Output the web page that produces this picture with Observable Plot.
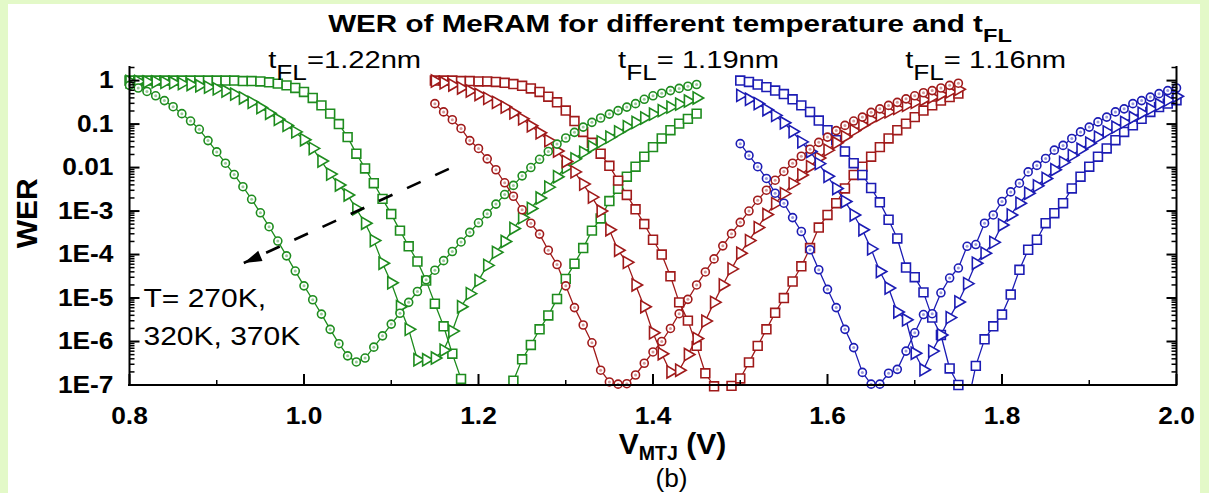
<!DOCTYPE html>
<html><head><meta charset="utf-8">
<script src="https://cdn.jsdelivr.net/npm/d3@7"></script>
<script src="https://cdn.jsdelivr.net/npm/@observablehq/plot@0.6"></script>
<style>
html,body{margin:0;padding:0;}
body{width:1209px;height:493px;background:#e3f9c8;position:relative;overflow:hidden;}
#panel{position:absolute;left:8px;top:4px;width:1192px;height:489px;background:#fff;}
#chart{position:absolute;left:0;top:0;}
</style></head>
<body><div id="panel"></div><div id="chart"></div>
<script>
// ---------- data: [V_MTJ (V), log10(WER)] ----------
// tFL = 1.22 nm (green)
const g270 = [[0.80,-0.11],[0.81,-0.17],[0.82,-0.25],[0.83,-0.35],[0.84,-0.46],[0.85,-0.60],[0.86,-0.76],[0.87,-0.93],[0.88,-1.12],[0.89,-1.38],[0.90,-1.64],[0.91,-1.90],[0.92,-2.16],[0.93,-2.44],[0.94,-2.73],[0.95,-3.04],[0.96,-3.36],[0.97,-3.69],[0.98,-4.03],[0.99,-4.38],[1.00,-4.72],[1.01,-5.04],[1.02,-5.37],[1.03,-5.72],[1.04,-6.05],[1.05,-6.33],[1.06,-6.47],[1.07,-6.38],[1.08,-6.13],[1.09,-5.87],[1.10,-5.60],[1.11,-5.35],[1.12,-5.10],[1.13,-4.85],[1.14,-4.58],[1.15,-4.36],[1.16,-4.14],[1.17,-3.93],[1.18,-3.71],[1.19,-3.49],[1.20,-3.27],[1.21,-3.06],[1.22,-2.84],[1.23,-2.62],[1.24,-2.41],[1.25,-2.19],[1.26,-2.00],[1.27,-1.81],[1.28,-1.63],[1.29,-1.46],[1.30,-1.32],[1.31,-1.19],[1.32,-1.07],[1.33,-0.96],[1.34,-0.86],[1.35,-0.77],[1.36,-0.69],[1.37,-0.61],[1.38,-0.53],[1.39,-0.43],[1.40,-0.35],[1.41,-0.29],[1.42,-0.23],[1.43,-0.18],[1.44,-0.13],[1.45,-0.09]];
const g320 = [[0.80,-0.02],[0.81,-0.02],[0.82,-0.03],[0.83,-0.03],[0.84,-0.04],[0.85,-0.05],[0.86,-0.07],[0.87,-0.09],[0.88,-0.12],[0.89,-0.15],[0.90,-0.19],[0.91,-0.24],[0.92,-0.31],[0.93,-0.40],[0.94,-0.50],[0.95,-0.62],[0.96,-0.75],[0.97,-0.89],[0.98,-1.03],[0.99,-1.18],[1.00,-1.36],[1.01,-1.56],[1.02,-1.85],[1.03,-2.15],[1.04,-2.40],[1.05,-2.63],[1.06,-2.95],[1.07,-3.28],[1.08,-3.68],[1.09,-4.20],[1.10,-4.65],[1.11,-5.20],[1.12,-5.72],[1.13,-6.42],[1.14,-6.42],[1.15,-6.38],[1.16,-6.20],[1.17,-5.76],[1.18,-5.20],[1.19,-4.90],[1.20,-4.60],[1.21,-4.25],[1.22,-3.95],[1.23,-3.70],[1.24,-3.40],[1.25,-3.15],[1.26,-2.94],[1.27,-2.70],[1.28,-2.45],[1.29,-2.21],[1.30,-2.00],[1.31,-1.80],[1.32,-1.65],[1.33,-1.52],[1.34,-1.41],[1.35,-1.30],[1.36,-1.18],[1.37,-1.06],[1.38,-0.96],[1.39,-0.86],[1.40,-0.77],[1.41,-0.69],[1.42,-0.61],[1.43,-0.54],[1.44,-0.47],[1.45,-0.40]];
const g370 = [[0.80,0],[0.81,0],[0.82,0],[0.83,0],[0.84,0],[0.85,0],[0.86,0],[0.87,0],[0.88,0],[0.89,0],[0.90,0],[0.91,0],[0.92,0],[0.93,-0.01],[0.94,-0.01],[0.95,-0.02],[0.96,-0.04],[0.97,-0.07],[0.98,-0.11],[0.99,-0.17],[1.00,-0.26],[1.01,-0.40],[1.02,-0.57],[1.03,-0.76],[1.04,-1.00],[1.05,-1.30],[1.06,-1.68],[1.07,-2.02],[1.08,-2.36],[1.09,-2.72],[1.10,-3.07],[1.11,-3.45],[1.12,-3.81],[1.13,-4.16],[1.14,-4.60],[1.15,-5.13],[1.16,-5.65],[1.17,-6.28],[1.18,-6.86],[1.19,-7.50],[1.23,-7.50],[1.24,-6.90],[1.25,-6.41],[1.26,-6.08],[1.27,-5.72],[1.28,-5.40],[1.29,-5.02],[1.30,-4.56],[1.31,-4.21],[1.32,-3.85],[1.33,-3.45],[1.34,-3.17],[1.35,-2.77],[1.36,-2.49],[1.37,-2.21],[1.38,-1.98],[1.39,-1.75],[1.40,-1.53],[1.41,-1.33],[1.42,-1.14],[1.43,-0.99],[1.44,-0.88],[1.45,-0.76]];
// tFL = 1.19 nm (red)
const r270 = [[1.15,-0.53],[1.16,-0.72],[1.17,-0.90],[1.18,-1.10],[1.19,-1.38],[1.20,-1.56],[1.21,-1.80],[1.22,-2.05],[1.23,-2.35],[1.24,-2.66],[1.25,-2.97],[1.26,-3.28],[1.27,-3.53],[1.28,-3.90],[1.29,-4.23],[1.30,-4.72],[1.31,-5.22],[1.32,-5.62],[1.33,-6.03],[1.34,-6.66],[1.35,-6.93],[1.36,-6.98],[1.37,-6.97],[1.38,-6.77],[1.39,-6.50],[1.40,-6.24],[1.41,-6.00],[1.42,-5.70],[1.43,-5.36],[1.44,-5.03],[1.45,-4.70],[1.46,-4.40],[1.47,-4.10],[1.48,-3.80],[1.49,-3.52],[1.50,-3.26],[1.51,-3.00],[1.52,-2.75],[1.53,-2.52],[1.54,-2.29],[1.55,-2.09],[1.56,-1.90],[1.57,-1.74],[1.58,-1.58],[1.59,-1.42],[1.60,-1.30],[1.61,-1.15],[1.62,-1.03],[1.63,-0.93],[1.64,-0.84],[1.65,-0.73],[1.66,-0.65],[1.67,-0.57],[1.68,-0.50],[1.69,-0.42],[1.70,-0.35],[1.71,-0.28],[1.72,-0.23],[1.73,-0.17],[1.74,-0.11],[1.75,-0.06]];
const r320 = [[1.15,-0.01],[1.16,-0.05],[1.17,-0.10],[1.18,-0.17],[1.19,-0.24],[1.20,-0.32],[1.21,-0.41],[1.22,-0.50],[1.23,-0.61],[1.24,-0.74],[1.25,-0.88],[1.26,-1.04],[1.27,-1.20],[1.28,-1.38],[1.29,-1.62],[1.30,-1.86],[1.31,-2.10],[1.32,-2.38],[1.33,-2.68],[1.34,-3.00],[1.35,-3.43],[1.36,-3.90],[1.37,-4.18],[1.38,-4.70],[1.39,-5.20],[1.40,-5.80],[1.41,-6.28],[1.42,-6.70],[1.43,-6.66],[1.44,-6.30],[1.45,-5.93],[1.46,-5.53],[1.47,-5.10],[1.48,-4.70],[1.49,-4.33],[1.50,-3.97],[1.51,-3.68],[1.52,-3.38],[1.53,-3.08],[1.54,-2.83],[1.55,-2.60],[1.56,-2.37],[1.57,-2.17],[1.58,-1.98],[1.59,-1.78],[1.60,-1.60],[1.61,-1.43],[1.62,-1.29],[1.63,-1.15],[1.64,-1.02],[1.65,-0.90],[1.66,-0.80],[1.67,-0.72],[1.68,-0.64],[1.69,-0.57],[1.70,-0.50],[1.71,-0.44],[1.72,-0.38],[1.73,-0.32],[1.74,-0.26],[1.75,-0.20]];
const r370 = [[1.15,0],[1.16,0],[1.17,0],[1.18,-0.01],[1.19,-0.01],[1.20,-0.02],[1.21,-0.02],[1.22,-0.03],[1.23,-0.05],[1.24,-0.08],[1.25,-0.12],[1.26,-0.18],[1.27,-0.26],[1.28,-0.37],[1.29,-0.50],[1.30,-0.69],[1.31,-0.93],[1.32,-1.18],[1.33,-1.43],[1.34,-1.68],[1.35,-1.96],[1.36,-2.30],[1.37,-2.63],[1.38,-2.96],[1.39,-3.30],[1.40,-3.66],[1.41,-4.00],[1.42,-4.50],[1.43,-5.10],[1.44,-5.52],[1.45,-6.10],[1.46,-6.73],[1.47,-7.03],[1.48,-7.50],[1.49,-7.02],[1.50,-6.85],[1.51,-6.48],[1.52,-6.10],[1.53,-5.72],[1.54,-5.34],[1.55,-5.00],[1.56,-4.62],[1.57,-4.27],[1.58,-3.85],[1.59,-3.38],[1.60,-3.09],[1.61,-2.82],[1.62,-2.48],[1.63,-2.17],[1.64,-1.98],[1.65,-1.75],[1.66,-1.53],[1.67,-1.33],[1.68,-1.14],[1.69,-0.99],[1.70,-0.84],[1.71,-0.69],[1.72,-0.57],[1.73,-0.46],[1.74,-0.38],[1.75,-0.30]];
// tFL = 1.16 nm (blue)
const b270 = [[1.50,-1.45],[1.51,-1.72],[1.52,-1.98],[1.53,-2.25],[1.54,-2.59],[1.55,-2.82],[1.56,-3.15],[1.57,-3.47],[1.58,-3.89],[1.59,-4.35],[1.60,-4.80],[1.61,-5.22],[1.62,-5.72],[1.63,-6.14],[1.64,-6.71],[1.65,-6.98],[1.66,-6.98],[1.67,-6.73],[1.68,-6.64],[1.69,-6.22],[1.70,-5.80],[1.71,-5.38],[1.72,-5.36],[1.73,-4.88],[1.74,-4.54],[1.75,-4.31],[1.76,-3.81],[1.77,-3.77],[1.78,-3.28],[1.79,-3.09],[1.80,-2.78],[1.81,-2.56],[1.82,-2.36],[1.83,-2.10],[1.84,-1.95],[1.85,-1.79],[1.86,-1.60],[1.87,-1.49],[1.88,-1.33],[1.89,-1.18],[1.90,-1.07],[1.91,-0.95],[1.92,-0.84],[1.93,-0.72],[1.94,-0.65],[1.95,-0.53],[1.96,-0.46],[1.97,-0.38],[1.98,-0.30],[1.99,-0.23],[2.00,-0.17]];
const b320 = [[1.50,-0.34],[1.51,-0.43],[1.52,-0.53],[1.53,-0.67],[1.54,-0.80],[1.55,-0.97],[1.56,-1.17],[1.57,-1.41],[1.58,-1.63],[1.59,-1.91],[1.60,-2.20],[1.61,-2.48],[1.62,-2.78],[1.63,-3.09],[1.64,-3.43],[1.65,-3.87],[1.66,-4.39],[1.67,-4.77],[1.68,-5.32],[1.69,-5.50],[1.70,-6.27],[1.71,-6.65],[1.72,-6.22],[1.73,-5.85],[1.74,-5.45],[1.75,-5.09],[1.76,-4.67],[1.77,-4.20],[1.78,-3.97],[1.79,-3.72],[1.80,-3.32],[1.81,-3.09],[1.82,-2.82],[1.83,-2.59],[1.84,-2.42],[1.85,-2.25],[1.86,-2.05],[1.87,-1.88],[1.88,-1.72],[1.89,-1.58],[1.90,-1.44],[1.91,-1.30],[1.92,-1.18],[1.93,-1.07],[1.94,-0.96],[1.95,-0.85],[1.96,-0.75],[1.97,-0.65],[1.98,-0.55],[1.99,-0.45],[2.00,-0.36]];
const b370 = [[1.50,0],[1.51,-0.03],[1.52,-0.09],[1.53,-0.15],[1.54,-0.23],[1.55,-0.31],[1.56,-0.43],[1.57,-0.57],[1.58,-0.72],[1.59,-0.92],[1.60,-1.14],[1.61,-1.37],[1.62,-1.63],[1.63,-1.90],[1.64,-2.17],[1.65,-2.47],[1.66,-2.80],[1.67,-3.20],[1.68,-3.63],[1.69,-4.30],[1.70,-4.52],[1.71,-4.87],[1.72,-5.45],[1.73,-5.85],[1.74,-6.62],[1.75,-7.00],[1.76,-7.50],[1.77,-6.56],[1.78,-5.95],[1.79,-5.65],[1.80,-5.38],[1.81,-4.92],[1.82,-4.35],[1.83,-3.89],[1.84,-3.66],[1.85,-3.28],[1.86,-3.05],[1.87,-2.82],[1.88,-2.48],[1.89,-2.21],[1.90,-1.98],[1.91,-1.75],[1.92,-1.56],[1.93,-1.37],[1.94,-1.18],[1.95,-1.03],[1.96,-0.88],[1.97,-0.72],[1.98,-0.61],[1.99,-0.53],[2.00,-0.45]];

const thicknesses = ["1.22", "1.19", "1.16"];
const temperatures = ["270K", "320K", "370K"];
const xTicks = [0.8, 1.0, 1.2, 1.4, 1.6, 1.8, 2.0];
const xTickLabels = ["0.8", "1.0", "1.2", "1.4", "1.6", "1.8", "2.0"];
const xMinorTicks = [0.9, 1.1, 1.3, 1.5, 1.7, 1.9];
const yTicks = [1, 0.1, 0.01, 1e-3, 1e-4, 1e-5, 1e-6, 1e-7];
const yTickLabels = ["1", "0.1", "0.01", "1E-3", "1E-4", "1E-5", "1E-6", "1E-7"];
const tflLabels = ["t_{FL}=1.22nm", "t_{FL}= 1.19nm", "t_{FL}= 1.16nm"];
const tempNote = ["T= 270K,", "320K, 370K"];
const titleText = "WER of MeRAM for different temperature and t_{FL}";
const arrowNote = [{v1: 1.166, w1: 9.3e-3, v2: 0.931, w2: 6.4e-5}];

// ---------- build table ----------
const seriesDefs = [
  [g270, "1.22", "270K"], [g320, "1.22", "320K"], [g370, "1.22", "370K"],
  [r270, "1.19", "270K"], [r320, "1.19", "320K"], [r370, "1.19", "370K"],
  [b270, "1.16", "270K"], [b320, "1.16", "320K"], [b370, "1.16", "370K"]
];
const rows = [];
for (const [pts, tFL, T] of seriesDefs)
  for (const [v, e] of pts) rows.push({V: v, WER: 10 ** e, tFL, T, key: tFL + "|" + T});
const shown = rows.filter(d => d.WER >= 10 ** -7.1);
const yMinor = [];
for (let e = -7; e < 0; e++) for (let m = 2; m <= 9; m++) yMinor.push(m * 10 ** e);
yMinor.push(2);

const FONT = "'Liberation Sans', Arial, Helvetica, sans-serif";
const tick = (dx, dy) => ({draw(ctx) { ctx.moveTo(0, 0); ctx.lineTo(dx, dy); }});
const arrowHead = {draw(ctx) { ctx.moveTo(0, 0); ctx.lineTo(-5.5, 18); ctx.lineTo(5.5, 18); ctx.closePath(); }};
const dotBase = {x: "V", y: "WER", stroke: "tFL", fill: "white", strokeWidth: 1.6};

const chart = Plot.plot({
  width: 1209, height: 493,
  marginLeft: 129, marginRight: 33, marginTop: 67, marginBottom: 108.5,
  style: {background: "transparent", fontFamily: FONT, color: "black", overflow: "visible"},
  x: {domain: [0.8, 2.0], axis: null},
  y: {type: "log", domain: [1e-7, 2], axis: null},
  color: {domain: thicknesses, range: ["#1e8c1e", "#a01a1a", "#1c1cb4"]},
  marks: [
    Plot.line(rows, {x: "V", y: "WER", z: "key", stroke: "tFL", strokeWidth: 1.3, clip: true}),
    Plot.dot(shown.filter(d => d.T === temperatures[2]), {...dotBase, symbol: "square", r: 5}),
    Plot.dot(shown.filter(d => d.T === temperatures[1]), {...dotBase, symbol: "triangle", rotate: 90, r: 4.5}),
    Plot.dot(shown.filter(d => d.T === temperatures[0]), {...dotBase, symbol: "circle", r: 4}),
    Plot.dot(shown.filter(d => d.T === temperatures[0]), {x: "V", y: "WER", r: 1.5, fill: "tFL", fillOpacity: 0.45, stroke: null}),
    // axes frame
    Plot.ruleX([0.8, 2.0], {strokeWidth: 2, strokeLinecap: "square"}),
    Plot.ruleY([1e-7], {strokeWidth: 2, strokeLinecap: "square"}),
    Plot.dot(yTicks, {y: d => d, frameAnchor: "left", symbol: tick(10, 0), stroke: "black", fill: "none", strokeWidth: 2}),
    Plot.dot(yMinor, {y: d => d, frameAnchor: "left", symbol: tick(5, 0), stroke: "black", fill: "none", strokeWidth: 1.5}),
    Plot.dot(yTicks, {y: d => d, frameAnchor: "right", symbol: tick(-10, 0), stroke: "black", fill: "none", strokeWidth: 2}),
    Plot.dot(yMinor, {y: d => d, frameAnchor: "right", symbol: tick(-5, 0), stroke: "black", fill: "none", strokeWidth: 1.5}),
    Plot.dot(xTicks, {x: d => d, frameAnchor: "bottom", symbol: tick(0, -11), stroke: "black", fill: "none", strokeWidth: 2}),
    Plot.dot(xMinorTicks, {x: d => d, frameAnchor: "bottom", symbol: tick(0, -5), stroke: "black", fill: "none", strokeWidth: 1.5}),
    // tick labels
    Plot.text(yTicks, {y: d => d, text: (d, i) => yTickLabels[i], frameAnchor: "left", textAnchor: "end", dx: -16, fontSize: 23.5, fontWeight: "bold", ariaDescription: "txt 1.12 1 0"}),
    Plot.text(xTicks, {x: d => d, text: (d, i) => xTickLabels[i], frameAnchor: "bottom", lineAnchor: "bottom", dy: 38.5, fontSize: 23.5, fontWeight: "bold", ariaDescription: "txt 1.12 1 0"}),
    // axis titles
    Plot.text(["WER"], {frameAnchor: "left", rotate: -90, dx: -102, dy: 22, fontSize: 30, fontWeight: "bold"}),
    Plot.text(["V_{MTJ} (V)"], {frameAnchor: "bottom", lineAnchor: "bottom", dx: 19.5, dy: 68.5, fontSize: 30, fontWeight: "bold", ariaDescription: "txt 1 0.65 0.22"}),
    Plot.text(["(b)"], {frameAnchor: "bottom", lineAnchor: "bottom", dx: 18.5, dy: 102, fontSize: 25, ariaDescription: "txt 1.05 1 0"}),
    // title
    Plot.text([titleText], {frameAnchor: "top", lineAnchor: "bottom", dx: 17, dy: -35.3, fontSize: 23.5, fontWeight: "bold", ariaDescription: "txt 1.26 0.8 0.42"}),
    // free-layer thickness labels
    Plot.text(tflLabels, {x: [0.959, 1.360, 1.689], frameAnchor: "top", lineAnchor: "bottom", textAnchor: "start", dy: 0.5, fontSize: 23.5, ariaDescription: "txt 1.24 0.9 0.5"}),
    // temperature annotation and arrow
    Plot.text(tempNote, {x: 0.816, y: [6.2e-6, 8.1e-7], textAnchor: "start", lineAnchor: "bottom", fontSize: 25, ariaDescription: "txt 1.2 1 0"}),
    Plot.link(arrowNote, {x1: "v1", y1: "w1", x2: "v2", y2: "w2", stroke: "black", strokeWidth: 2.6, strokeDasharray: "15 16"}),
    Plot.dot(arrowNote, {x: "v2", y: "w2", symbol: arrowHead, rotate: 247, fill: "black", stroke: "none"})
  ]
});

document.getElementById("chart").append(chart);

// subscripts ("_{...}") and horizontal stretching of texts
const NS = "http://www.w3.org/2000/svg";
chart.querySelectorAll('g[aria-description^="txt"]').forEach(g => {
  const [, k, subSize, subShift] = g.getAttribute("aria-description").split(" ").map(Number);
  g.querySelectorAll("text").forEach(t => {
    const walker = document.createTreeWalker(t, NodeFilter.SHOW_TEXT);
    const nodes = [];
    while (walker.nextNode()) nodes.push(walker.currentNode);
    for (const node of nodes) {
      if (!node.nodeValue.includes("_{")) continue;
      const parts = node.nodeValue.split(/_\{([^}]*)\}/);
      const frag = document.createDocumentFragment();
      if (parts[0]) frag.append(document.createTextNode(parts[0]));
      for (let i = 1; i < parts.length; i += 2) {
        const sub = document.createElementNS(NS, "tspan");
        sub.setAttribute("font-size", (subSize * 100) + "%");
        sub.setAttribute("dy", (subShift / subSize) + "em");
        sub.textContent = parts[i];
        frag.append(sub);
        if (parts[i + 1]) {
          const rest = document.createElementNS(NS, "tspan");
          rest.setAttribute("dy", (-subShift) + "em");
          rest.textContent = parts[i + 1];
          frag.append(rest);
        }
      }
      node.replaceWith(frag);
    }
    if (k !== 1) {
      const w = t.getComputedTextLength();
      t.setAttribute("textLength", (w * k).toFixed(1));
      t.setAttribute("lengthAdjust", "spacingAndGlyphs");
    }
  });
});
</script>
</body></html>
